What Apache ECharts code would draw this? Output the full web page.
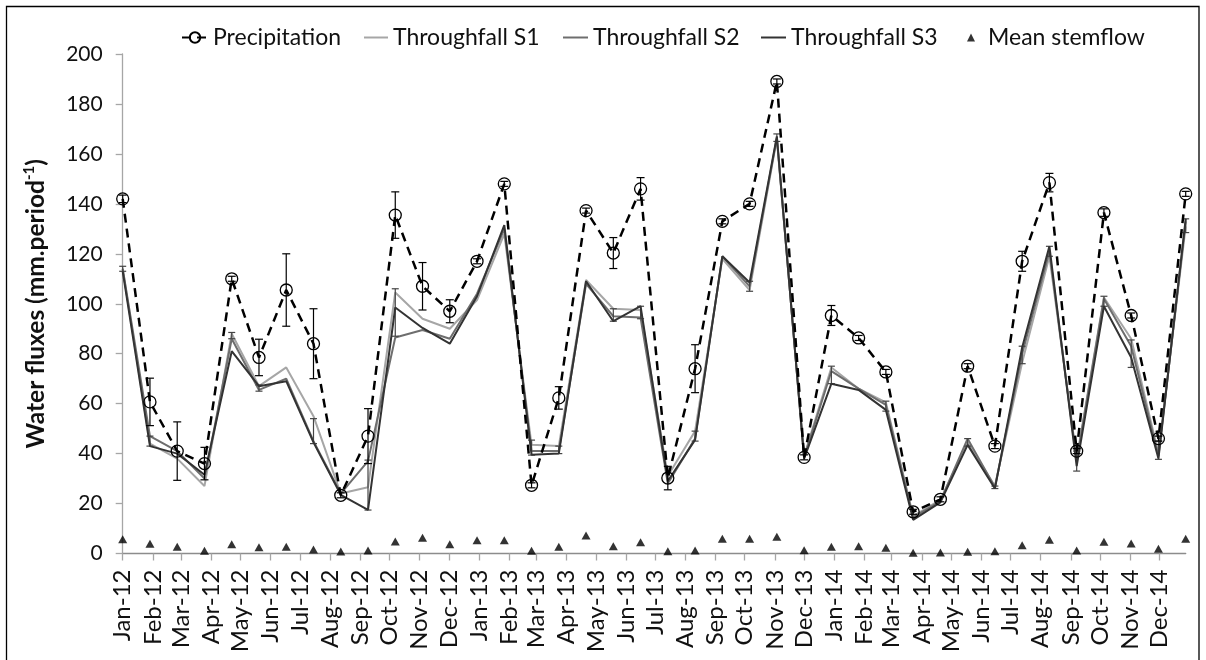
<!DOCTYPE html>
<html>
<head>
<meta charset="utf-8">
<script src="https://cdn.jsdelivr.net/npm/echarts@6/dist/echarts.min.js"></script>
<style>
html,body{margin:0;padding:0;background:#fff;}
#chart{width:1206px;height:660px;}
</style>
</head>
<body>
<div id="chart"></div>
<script>
// ---- data ----
const monthLabels = ['Jan-12','Feb-12','Mar-12','Apr-12','May-12','Jun-12','Jul-12','Aug-12','Sep-12','Oct-12','Nov-12','Dec-12',
  'Jan-13','Feb-13','Mar-13','Apr-13','May-13','Jun-13','Jul-13','Aug-13','Sep-13','Oct-13','Nov-13','Dec-13',
  'Jan-14','Feb-14','Mar-14','Apr-14','May-14','Jun-14','Jul-14','Aug-14','Sep-14','Oct-14','Nov-14','Dec-14'];
const dates = ['2012-01-01','2012-01-29','2012-02-26','2012-03-25','2012-04-22','2012-05-20','2012-06-17','2012-07-15',
  '2012-08-12','2012-09-09','2012-10-07','2012-11-04','2012-12-02','2012-12-30','2013-01-27','2013-02-24','2013-03-24',
  '2013-04-21','2013-05-19','2013-06-16','2013-07-14','2013-08-11','2013-09-08','2013-10-06','2013-11-03','2013-12-01',
  '2013-12-29','2014-01-26','2014-02-23','2014-03-23','2014-04-20','2014-05-18','2014-06-15','2014-07-13','2014-08-10',
  '2014-09-07','2014-10-05','2014-11-02','2014-11-30','2014-12-28'];
const precipitation = [142,60.7,41,36,110,78.5,105.5,84,23.3,47,135.5,107,97,117,148,27.3,62.3,137.3,120.3,146,
  30.2,74,133,140,189,38.5,95.3,86.3,72.7,16.7,21.7,75,43,117,148.5,41,136.5,95.3,46,144];
const precipError = [1.5,9.5,11.7,6.5,1,7.3,14.5,14,1,11,9.3,9.5,4.6,1,1,1,4.5,1,6.2,4.5,
  4.7,9.6,1,1,1,1,4,1,1,1,1,1,1,4,3.7,1,1.5,1,1,1];
const throughfallS1 = [114,44,38,27,88,67,74.5,55,24,26.5,104.5,94,90,101.5,128,43.5,43,109.5,98,97.5,
  31,49,118,105.5,166,39,74.5,66,60.5,15,21.5,44.5,27,76.5,119,38,102.5,86,40,131];
const throughfallS2 = [114,47,41,30,86,65.5,70,45,24,37,86.5,89.5,86,104,130,41,41,108,95,94.5,
  28,46,119,107,166.5,38.5,73,66,59.5,14.5,21,46,26.5,80,121,37,102,83,39,133];
const throughfallS3 = [113,43,40,31.5,81,67,69,44.5,23.5,17.5,98.5,90.3,84,103,131.5,39.5,40,109,93,99,
  29,45.5,119,108.5,167,38,68,65.5,57.5,13.5,20.5,43.5,26,82.5,123,35,99,78.5,38,134];
const throughfallErrLow  = [113,43,null,null,86,65,null,44,null,17.4,87,null,null,null,null,39.4,40,null,93,94,
  null,45,null,105,165,null,68,null,57,null,null,43,26,76,119,33,99,74.5,37.7,128.5];
const throughfallErrHigh = [115,47,null,null,88.5,67.5,null,54,null,37.4,106,null,null,null,null,45.4,43,null,98,99,
  null,49,null,109,168,null,75,null,61,null,null,46,27,83,123,41,103,85.5,45,134];
const stemflow = [5.7,3.9,2.7,1.1,3.7,2.5,2.7,1.6,0.8,1.2,4.8,6.3,3.7,5.3,5.3,1.1,2.7,7.2,2.9,4.5,
  0.9,1.2,5.9,5.9,6.7,1.3,2.7,2.9,2.3,0.3,0.4,0.7,0.9,3.3,5.5,1.2,4.7,4.0,1.9,5.9];

// ---- helpers ----
const MONTHS = ['Jan','Feb','Mar','Apr','May','Jun','Jul','Aug','Sep','Oct','Nov','Dec'];
const DAY = 86400000;
const origin = Date.UTC(2012,0,1);
function dayOf(s){ const p = s.split('-').map(Number); return (Date.UTC(p[0],p[1]-1,p[2]) - origin)/DAY; }
function dayOfLabel(l){ const m = MONTHS.indexOf(l.slice(0,3)); const y = 2000 + Number(l.slice(4)); return (Date.UTC(y,m,1)-origin)/DAY; }
const xs = dates.map(dayOf);
const tickDays = monthLabels.map(dayOfLabel);
const labelByDay = {}; monthLabels.forEach((l,i)=>{ labelByDay[tickDays[i]] = l; });
const pair = arr => arr.map((v,i)=>[xs[i], v]);
const precipErrData = precipitation.map((v,i)=>[xs[i], v - precipError[i], v + precipError[i]]);
const tfErrData = throughfallErrLow.map((v,i)=>[xs[i], v, throughfallErrHigh[i]]).filter(d=>d[1]!==null);

function errRenderer(color, w){
  return function(params, api){
    const x = api.value(0), lo = api.value(1), hi = api.value(2);
    const a = api.coord([x, hi]), b = api.coord([x, lo]);
    const st = {stroke: color, lineWidth: 1.2};
    return {type: 'group', children: [
      {type: 'line', shape: {x1: a[0], y1: a[1], x2: b[0], y2: b[1]}, style: st},
      {type: 'line', shape: {x1: a[0]-w, y1: a[1], x2: a[0]+w, y2: a[1]}, style: st},
      {type: 'line', shape: {x1: b[0]-w, y1: b[1], x2: b[0]+w, y2: b[1]}, style: st}
    ]};
  };
}

const FONT = 'Lato';
const LEG_TEXT = {fontFamily: FONT, fontSize: 23, color: '#111'};
function legendAt(name, left, w, h, extra){
  return Object.assign({top: 26, left: left, padding: 0, itemWidth: w, itemHeight: h,
    textStyle: LEG_TEXT, data: [name], selectedMode: false}, extra || {});
}
const chart = echarts.init(document.getElementById('chart'), null, {renderer:'canvas'});
const option = {
  animation: false,
  backgroundColor: '#fff',
  textStyle: {fontFamily: FONT},
  graphic: [{type:'rect', shape:{x:6.5,y:6.5,width:1192.5,height:700}, style:{fill:'none', stroke:'#000', lineWidth:1.3}, silent:true}],
  legend: [
    legendAt('Precipitation', 181, 26, 13),
    legendAt('Throughfall S1', 363, 24, 13),
    legendAt('Throughfall S2', 562, 25, 13),
    legendAt('Throughfall S3', 760, 25, 13),
    legendAt('Mean stemflow', 967, 8, 8, {textStyle: Object.assign({}, LEG_TEXT, {padding: [0,0,0,8]})})
  ],
  grid: {left: 122.7, right: 20.3, top: 54, bottom: 106.5, containLabel: false, outerBoundsMode: 'none'},
  xAxis: {
    type: 'value', min: 0, max: xs[xs.length-1],
    axisLine: {lineStyle: {color: '#8c8c8c', width: 1.3}},
    axisTick: {show: true, length: 7, lineStyle: {color: '#a6a6a6', width: 1.3}, customValues: tickDays},
    axisLabel: {customValues: tickDays, rotate: 90, margin: 16, fontSize: 24, color: '#111', fontFamily: FONT,
      formatter: v => labelByDay[v] || ''},
    splitLine: {show: false}
  },
  yAxis: {
    type: 'value', min: 0, max: 200, interval: 20,
    name: 'Water fluxes (mm.period{sup|-1})', nameLocation: 'middle', nameRotate: 90, nameGap: 73,
    nameTextStyle: {fontFamily: FONT, fontSize: 24.5, fontWeight: 'bold', color: '#111',
      rich: {sup: {fontFamily: FONT, fontSize: 15, fontWeight: 'bold', color: '#111', verticalAlign: 'top', padding: [0,0,13,0]}}},
    axisLine: {show: true, lineStyle: {color: '#a6a6a6', width: 1.3}},
    axisTick: {show: true, length: 7, lineStyle: {color: '#a6a6a6', width: 1.3}},
    axisLabel: {fontSize: 21, color: '#111', margin: 20, fontFamily: FONT},
    splitLine: {show: false}
  },
  series: [
    {name: 'Throughfall S1', type: 'line', data: pair(throughfallS1), symbol: 'none', z: 2,
      lineStyle: {color: '#a6a6a6', width: 2}, itemStyle: {color: 'rgba(0,0,0,0)', borderWidth: 0}},
    {name: 'Throughfall S2', type: 'line', data: pair(throughfallS2), symbol: 'none', z: 3,
      lineStyle: {color: '#6e6e6e', width: 2}, itemStyle: {color: 'rgba(0,0,0,0)', borderWidth: 0}},
    {name: 'Throughfall S3', type: 'line', data: pair(throughfallS3), symbol: 'none', z: 4,
      lineStyle: {color: '#333333', width: 2}, itemStyle: {color: 'rgba(0,0,0,0)', borderWidth: 0}},
    {name: 'Throughfall error', type: 'custom', data: tfErrData, z: 4,
      encode: {x: 0, y: [1,2]}, renderItem: errRenderer('#444', 3.5)},
    {name: 'Precipitation', type: 'line', data: pair(precipitation), z: 5,
      symbol: 'circle', symbolSize: 12,
      lineStyle: {color: '#000', width: 2.5, type: [9,6]},
      itemStyle: {color: 'rgba(255,255,255,0)', borderColor: '#000', borderWidth: 1.3}},
    {name: 'Precipitation error', type: 'custom', data: precipErrData, z: 6,
      encode: {x: 0, y: [1,2]}, renderItem: errRenderer('#000', 4)},
    {name: 'Mean stemflow', type: 'scatter', data: pair(stemflow), z: 6,
      symbol: 'triangle', symbolSize: [9,8], itemStyle: {color: '#000'}}
  ]
};
chart.setOption(option);
</script>
</body>
</html>
